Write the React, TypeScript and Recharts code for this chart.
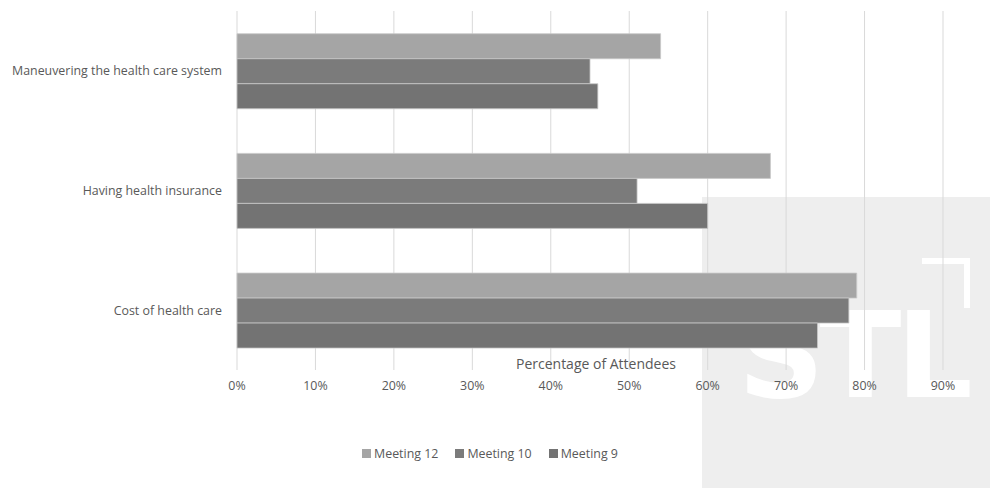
import React from 'react';
import {
  BarChart,
  Bar,
  XAxis,
  YAxis,
  CartesianGrid,
  Legend,
  Label,
} from 'recharts';

const categories = [
  'Maneuvering the health care system',
  'Having health insurance',
  'Cost of health care',
];
const meeting12 = [0.54, 0.68, 0.79];
const meeting10 = [0.45, 0.51, 0.78];
const meeting9 = [0.46, 0.6, 0.74];
const xTicks = [0, 0.1, 0.2, 0.3, 0.4, 0.5, 0.6, 0.7, 0.8, 0.9];

const series = [
  { key: 'm12', name: 'Meeting 12', color: '#a5a5a5' },
  { key: 'm10', name: 'Meeting 10', color: '#7b7b7b' },
  { key: 'm9', name: 'Meeting 9', color: '#737373' },
];

const data = categories.map((name, i) => ({
  name,
  m12: meeting12[i],
  m10: meeting10[i],
  m9: meeting9[i],
}));

const FONT = '"Open Sans", sans-serif';
const TEXT = '#595959';

const formatPct = (v: number) => `${Math.round(v * 100)}%`;

const renderLegend = () => (
  <div
    style={{
      display: 'flex',
      justifyContent: 'center',
      gap: 17,
      paddingRight: 10,
      fontFamily: FONT,
      fontSize: 12.4,
      color: TEXT,
    }}
  >
    {series.map(s => (
      <div key={s.key} style={{ display: 'flex', alignItems: 'center' }}>
        <span style={{ display: 'inline-block', width: 9, height: 9, background: s.color, marginRight: 3 }} />
        {s.name}
      </div>
    ))}
  </div>
);

// watermark block behind the chart
const Watermark = () => (
  <div style={{ position: 'absolute', left: 702, top: 197, width: 288, height: 291, background: '#eeeeee' }}>
    <div
      style={{
        position: 'absolute',
        left: 36,
        top: 84,
        fontFamily: '"DejaVu Sans", sans-serif',
        fontWeight: 'bold',
        fontSize: 120,
        lineHeight: '150px',
        color: '#ffffff',
        letterSpacing: -5,
      }}
    >
      STL
    </div>
    <div style={{ position: 'absolute', left: 220, top: 61, width: 48, height: 6, background: '#ffffff' }} />
    <div style={{ position: 'absolute', left: 262, top: 61, width: 6, height: 50, background: '#ffffff' }} />
  </div>
);

const App: React.FC = () => {
  return (
    <div style={{ position: 'absolute', left: 0, top: 0, width: 990, height: 488, background: '#ffffff' }}>
      <Watermark />
      <div style={{ position: 'absolute', left: 0, top: 0 }}>
        <BarChart
          width={990}
          height={488}
          data={data}
          layout="vertical"
          margin={{ top: 11, right: 47, left: 0, bottom: 88 }}
          barCategoryGap="19%"
          barGap={0}
        >
          <CartesianGrid horizontal={false} stroke="#d9d9d9" />
          <XAxis
            type="number"
            domain={[0, 0.9]}
            ticks={xTicks}
            tickFormatter={formatPct}
            axisLine={false}
            tickLine={false}
            tickSize={0}
            tickMargin={11}
            height={30}
            tick={{ fontSize: 12.4, fill: TEXT, fontFamily: FONT }}
          >
            <Label
              value="Percentage of Attendees"
              position="top"
              offset={1}
              dx={6}
              style={{ fontSize: 14, fill: TEXT, fontFamily: FONT }}
            />
          </XAxis>
          <YAxis
            type="category"
            dataKey="name"
            width={237}
            axisLine={false}
            tickLine={false}
            tickSize={0}
            tickMargin={15}
            tick={{ fontSize: 12.4, fill: TEXT, fontFamily: FONT }}
          />
          <Legend
            layout="horizontal"
            verticalAlign="middle"
            align="center"
            content={renderLegend}
            wrapperStyle={{ top: 445, left: 0, width: 990 }}
          />
          {series.map(s => (
            <Bar
              key={s.key}
              dataKey={s.key}
              name={s.name}
              fill={s.color}
              stroke="#c8c8c8"
              strokeWidth={0.8}
              isAnimationActive={false}
            />
          ))}
        </BarChart>
      </div>
    </div>
  );
};

export default App;
